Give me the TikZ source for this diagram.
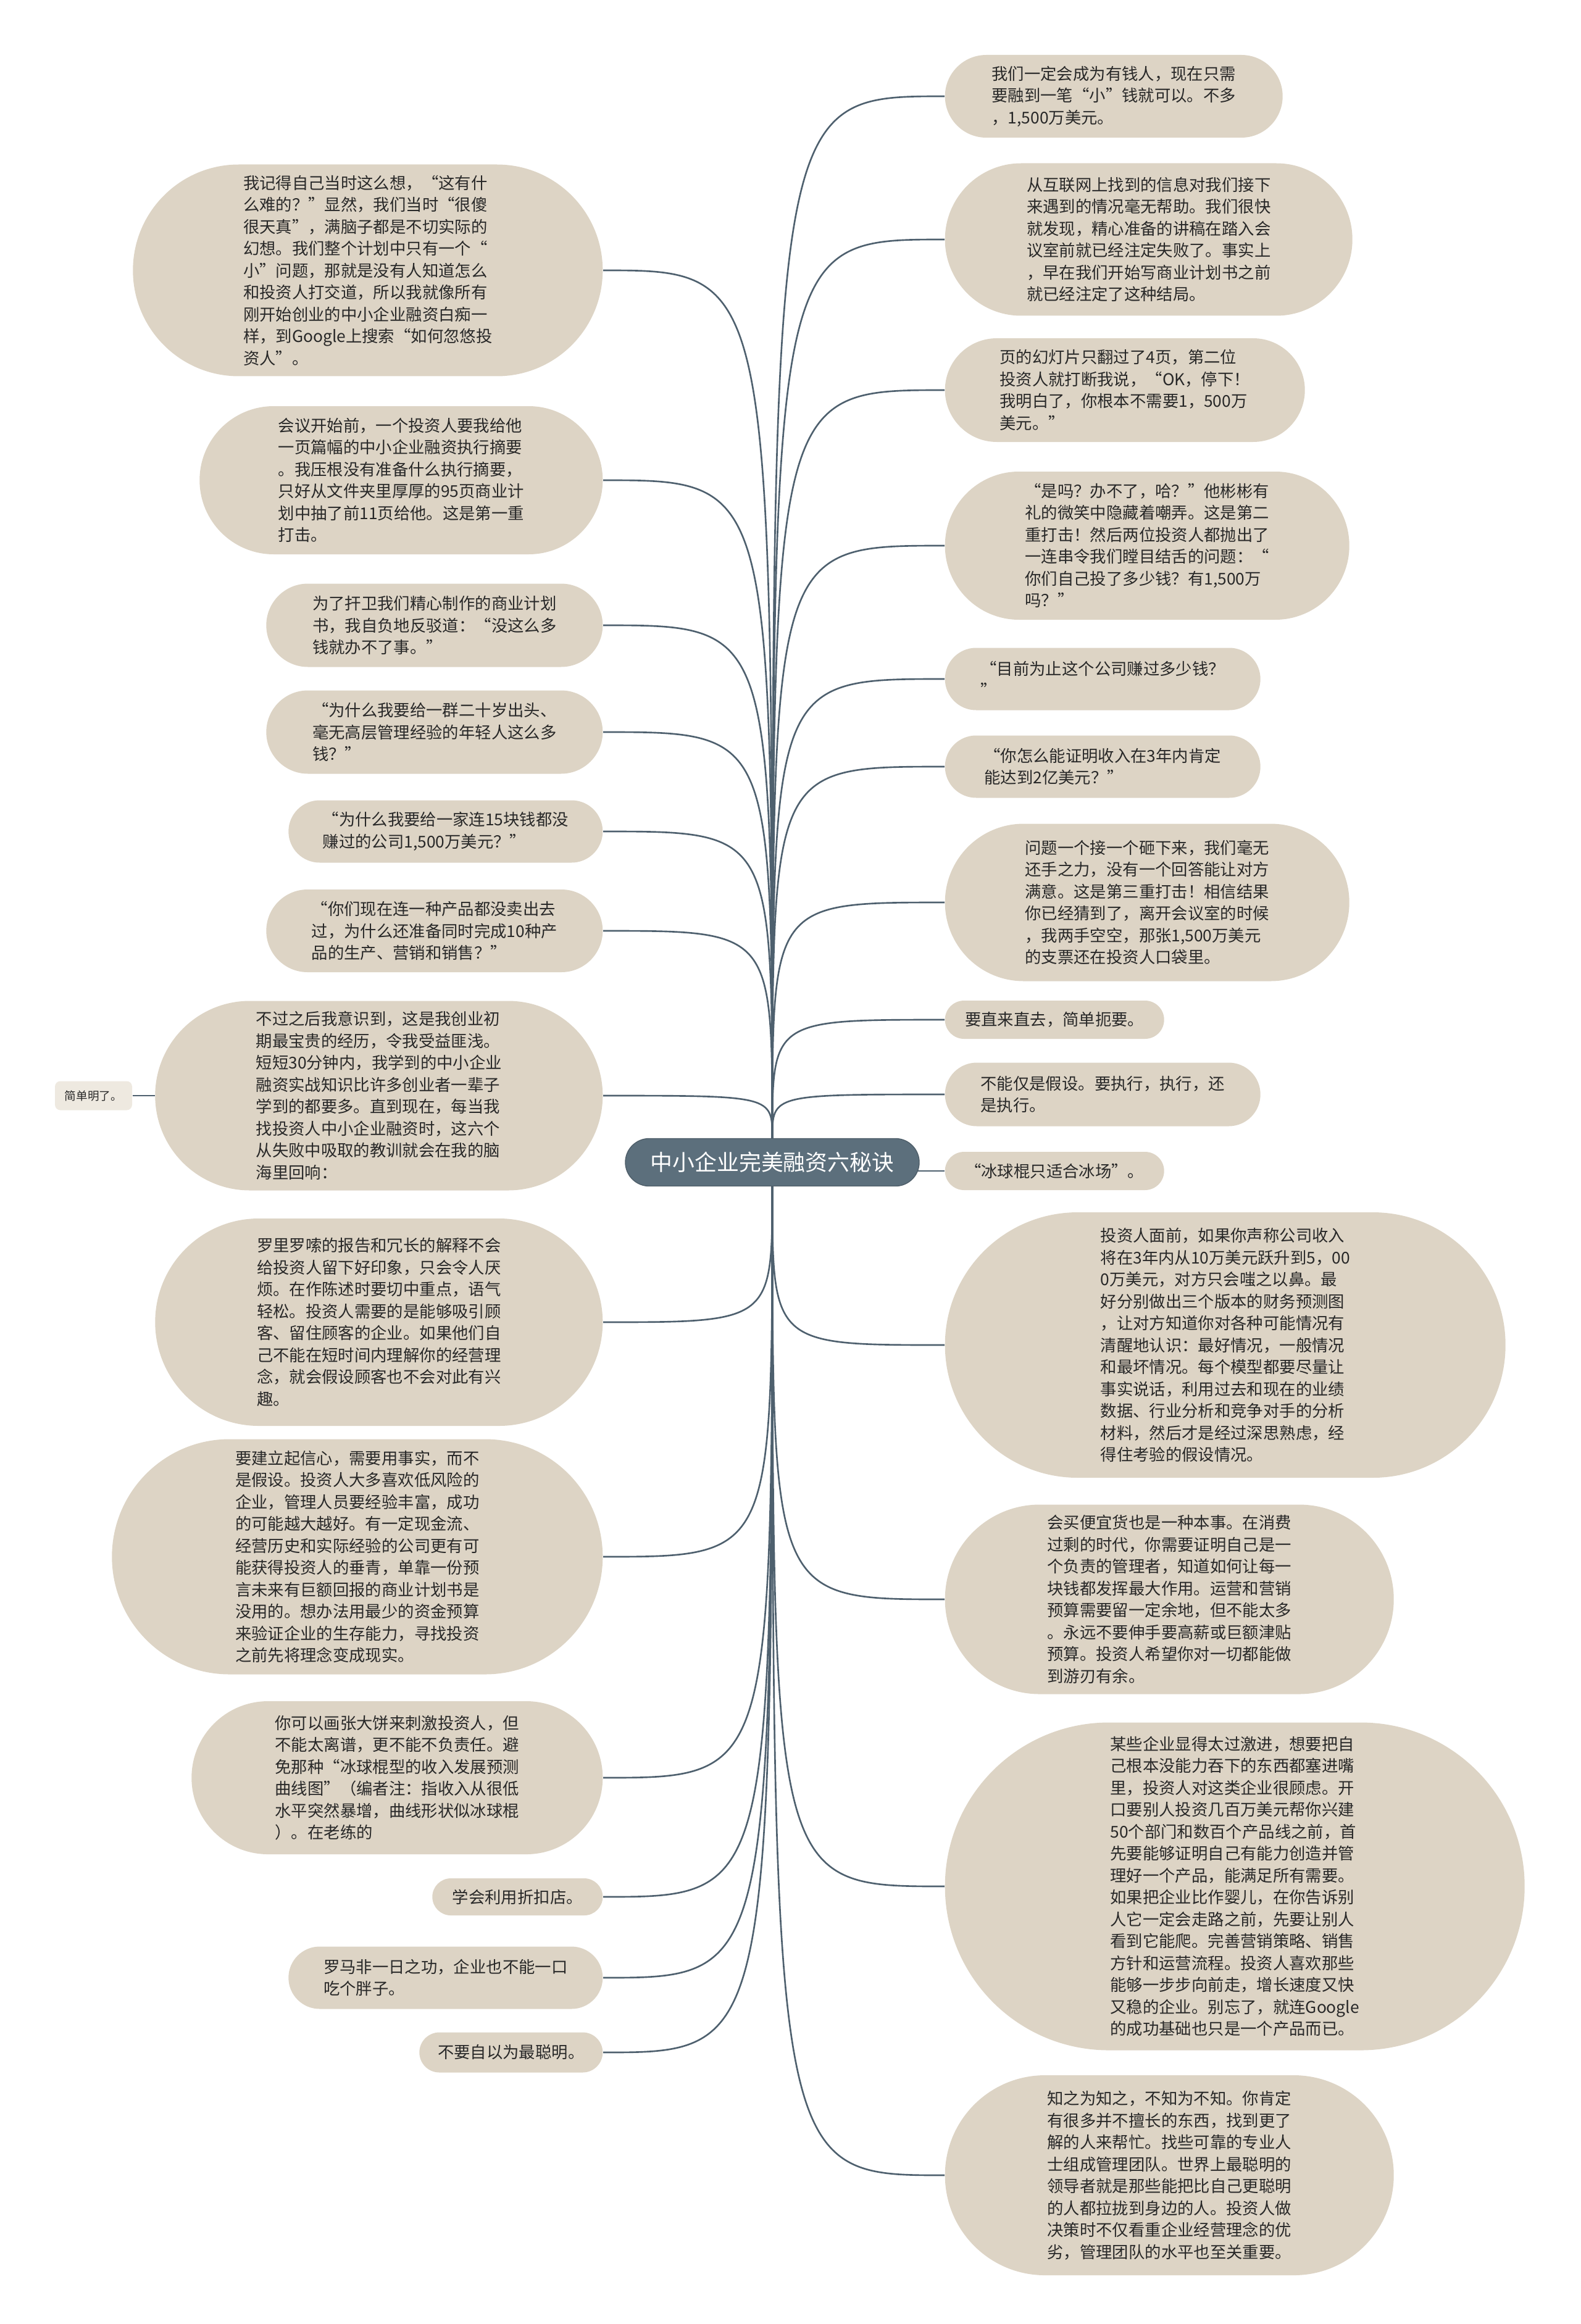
\documentclass[tikz,border=0pt]{standalone}
\usepackage{fontspec}
\setmainfont{Noto Sans CJK SC}
\usepackage{tikz}
\usetikzlibrary{calc, backgrounds}

\definecolor{leafbg}{RGB}{221,212,197}
\definecolor{tipbg}{RGB}{238,233,224}
\definecolor{hubbg}{RGB}{92,111,124}
\definecolor{wire}{RGB}{78,96,110}
\definecolor{ink}{RGB}{40,40,40}

\begin{document}
\begin{tikzpicture}[
  leaf/.style 2 args={rectangle, fill=leafbg, text=ink, align=left, inner sep=0pt,
    minimum width=#1cm, minimum height=#2cm, rounded corners=#2*0.5cm,
    font=\fontsize{7.5pt}{10.1pt}\selectfont},
  hub/.style={rectangle, fill=hubbg, draw=hubbg!85!black, text=white, inner sep=0pt,
    minimum width=4.76cm, minimum height=0.77cm, rounded corners=0.385cm,
    font=\fontsize{10.2pt}{12pt}\selectfont},
  tip/.style={rectangle, rounded corners=2.5pt, fill=tipbg, text=ink,
    minimum width=1.25cm, minimum height=0.47cm, font=\fontsize{5.3pt}{6pt}\selectfont},
  link/.style={draw=wire, line width=0.75pt}
]
  \useasboundingbox (0,0) rectangle (25.6,-37.65);

  % Central topic
  \node[hub] (M) at (12.51,-18.83) {中小企业完美融资六秘诀};

  % Left branches (right edge at x = 9.77)
  \node[leaf={7.61}{3.43}, anchor=east] (L1) at (9.77,-4.38) {我记得自己当时这么想，“这有什\\么难的？”显然，我们当时“很傻\\很天真”，满脑子都是不切实际的\\幻想。我们整个计划中只有一个“\\小”问题，那就是没有人知道怎么\\和投资人打交道，所以我就像所有\\刚开始创业的中小企业融资白痴一\\样，到Google上搜索“如何忽悠投\\资人”。};
  \node[leaf={6.53}{2.40}, anchor=east] (L2) at (9.77,-7.78) {会议开始前，一个投资人要我给他\\一页篇幅的中小企业融资执行摘要\\。我压根没有准备什么执行摘要，\\只好从文件夹里厚厚的95页商业计\\划中抽了前11页给他。这是第一重\\打击。};
  \node[leaf={5.45}{1.35}, anchor=east] (L3) at (9.77,-10.13) {为了扞卫我们精心制作的商业计划\\书，我自负地反驳道：“没这么多\\钱就办不了事。”};
  \node[leaf={5.45}{1.35}, anchor=east] (L4) at (9.77,-11.86) {“为什么我要给一群二十岁出头、\\毫无高层管理经验的年轻人这么多\\钱？”};
  \node[leaf={5.09}{1.01}, anchor=east] (L5) at (9.77,-13.47) {“为什么我要给一家连15块钱都没\\赚过的公司1,500万美元？”};
  \node[leaf={5.45}{1.34}, anchor=east] (L6) at (9.77,-15.08) {“你们现在连一种产品都没卖出去\\过，为什么还准备同时完成10种产\\品的生产、营销和销售？”};
  \node[leaf={7.25}{3.07}, anchor=east] (L7) at (9.77,-17.75) {不过之后我意识到，这是我创业初\\期最宝贵的经历，令我受益匪浅。\\短短30分钟内，我学到的中小企业\\融资实战知识比许多创业者一辈子\\学到的都要多。直到现在，每当我\\找投资人中小企业融资时，这六个\\从失败中吸取的教训就会在我的脑\\海里回响：};
  \node[leaf={7.25}{3.36}, anchor=east] (L8) at (9.77,-21.42) {罗里罗嗦的报告和冗长的解释不会\\给投资人留下好印象，只会令人厌\\烦。在作陈述时要切中重点，语气\\轻松。投资人需要的是能够吸引顾\\客、留住顾客的企业。如果他们自\\己不能在短时间内理解你的经营理\\念，就会假设顾客也不会对此有兴\\趣。};
  \node[leaf={7.95}{3.81}, anchor=east] (L9) at (9.77,-25.22) {要建立起信心，需要用事实，而不\\是假设。投资人大多喜欢低风险的\\企业，管理人员要经验丰富，成功\\的可能越大越好。有一定现金流、\\经营历史和实际经验的公司更有可\\能获得投资人的垂青，单靠一份预\\言未来有巨额回报的商业计划书是\\没用的。想办法用最少的资金预算\\来验证企业的生存能力，寻找投资\\之前先将理念变成现实。};
  \node[leaf={6.66}{2.48}, anchor=east] (L10) at (9.77,-28.80) {你可以画张大饼来刺激投资人，但\\不能太离谱，更不能不负责任。避\\免那种“冰球棍型的收入发展预测\\曲线图”（编者注：指收入从很低\\水平突然暴增，曲线形状似冰球棍\\）。在老练的};
  \node[leaf={2.76}{0.60}, anchor=east] (L11) at (9.77,-30.73) {学会利用折扣店。};
  \node[leaf={5.09}{1.01}, anchor=east] (L12) at (9.77,-32.04) {罗马非一日之功，企业也不能一口\\吃个胖子。};
  \node[leaf={2.97}{0.65}, anchor=east] (L13) at (9.77,-33.25) {不要自以为最聪明。};

  % Sub-topic hanging off L7
  \node[tip] (S) at (1.515,-17.75) {简单明了。};

  % Right branches (left edge at x = 15.30)
  \node[leaf={5.47}{1.34}, anchor=west] (R1) at (15.30,-1.56) {我们一定会成为有钱人，现在只需\\要融到一笔“小”钱就可以。不多\\，1,500万美元。};
  \node[leaf={6.60}{2.47}, anchor=west] (R2) at (15.30,-3.88) {从互联网上找到的信息对我们接下\\来遇到的情况毫无帮助。我们很快\\就发现，精心准备的讲稿在踏入会\\议室前就已经注定失败了。事实上\\，早在我们开始写商业计划书之前\\就已经注定了这种结局。};
  \node[leaf={5.83}{1.68}, anchor=west] (R3) at (15.30,-6.32) {页的幻灯片只翻过了4页，第二位\\投资人就打断我说，“OK，停下！\\我明白了，你根本不需要1，500万\\美元。”};
  \node[leaf={6.55}{2.40}, anchor=west] (R4) at (15.30,-8.84) {“是吗？办不了，哈？”他彬彬有\\礼的微笑中隐藏着嘲弄。这是第二\\重打击！然后两位投资人都抛出了\\一连串令我们瞠目结舌的问题：“\\你们自己投了多少钱？有1,500万\\吗？”};
  \node[leaf={5.11}{1.01}, anchor=west] (R5) at (15.30,-11.00) {“目前为止这个公司赚过多少钱？\\”};
  \node[leaf={5.11}{1.01}, anchor=west] (R6) at (15.30,-12.42) {“你怎么能证明收入在3年内肯定\\能达到2亿美元？”};
  \node[leaf={6.55}{2.55}, anchor=west] (R7) at (15.30,-14.62) {问题一个接一个砸下来，我们毫无\\还手之力，没有一个回答能让对方\\满意。这是第三重打击！相信结果\\你已经猜到了，离开会议室的时候\\，我两手空空，那张1,500万美元\\的支票还在投资人口袋里。};
  \node[leaf={3.55}{0.62}, anchor=west] (R8) at (15.30,-16.52) {要直来直去，简单扼要。};
  \node[leaf={5.11}{1.03}, anchor=west] (R9) at (15.30,-17.73) {不能仅是假设。要执行，执行，还\\是执行。};
  \node[leaf={3.55}{0.62}, anchor=west] (R10) at (15.30,-18.97) {“冰球棍只适合冰场”。};
  \node[leaf={9.08}{4.30}, anchor=west] (R11) at (15.30,-21.79) {投资人面前，如果你声称公司收入\\将在3年内从10万美元跃升到5，00\\0万美元，对方只会嗤之以鼻。最\\好分别做出三个版本的财务预测图\\，让对方知道你对各种可能情况有\\清醒地认识：最好情况，一般情况\\和最坏情况。每个模型都要尽量让\\事实说话，利用过去和现在的业绩\\数据、行业分析和竞争对手的分析\\材料，然后才是经过深思熟虑，经\\得住考验的假设情况。};
  \node[leaf={7.27}{3.07}, anchor=west] (R12) at (15.30,-25.91) {会买便宜货也是一种本事。在消费\\过剩的时代，你需要证明自己是一\\个负责的管理者，知道如何让每一\\块钱都发挥最大作用。运营和营销\\预算需要留一定余地，但不能太多\\。永远不要伸手要高薪或巨额津贴\\预算。投资人希望你对一切都能做\\到游刃有余。};
  \node[leaf={9.39}{5.31}, anchor=west] (R13) at (15.30,-30.56) {某些企业显得太过激进，想要把自\\己根本没能力吞下的东西都塞进嘴\\里，投资人对这类企业很顾虑。开\\口要别人投资几百万美元帮你兴建\\50个部门和数百个产品线之前，首\\先要能够证明自己有能力创造并管\\理好一个产品，能满足所有需要。\\如果把企业比作婴儿，在你告诉别\\人它一定会走路之前，先要让别人\\看到它能爬。完善营销策略、销售\\方针和运营流程。投资人喜欢那些\\能够一步步向前走，增长速度又快\\又稳的企业。别忘了，就连Google\\的成功基础也只是一个产品而已。};
  \node[leaf={7.27}{3.24}, anchor=west] (R14) at (15.30,-35.24) {知之为知之，不知为不知。你肯定\\有很多并不擅长的东西，找到更了\\解的人来帮忙。找些可靠的专业人\\士组成管理团队。世界上最聪明的\\领导者就是那些能把比自己更聪明\\的人都拉拢到身边的人。投资人做\\决策时不仅看重企业经营理念的优\\劣，管理团队的水平也至关重要。};

  \begin{scope}[on background layer]
  % Curved links, upper left
  \draw[link] (M.north) .. controls (M.north |- L1.east) .. (L1.east);
  \draw[link] (M.north) .. controls (M.north |- L2.east) .. (L2.east);
  \draw[link] (M.north) .. controls (M.north |- L3.east) .. (L3.east);
  \draw[link] (M.north) .. controls (M.north |- L4.east) .. (L4.east);
  \draw[link] (M.north) .. controls (M.north |- L5.east) .. (L5.east);
  \draw[link] (M.north) .. controls (M.north |- L6.east) .. (L6.east);
  \draw[link] (M.north) .. controls (M.north |- L7.east) .. (L7.east);
  % Curved links, lower left
  \draw[link] (M.south) .. controls (M.south |- L8.east) .. (L8.east);
  \draw[link] (M.south) .. controls (M.south |- L9.east) .. (L9.east);
  \draw[link] (M.south) .. controls (M.south |- L10.east) .. (L10.east);
  \draw[link] (M.south) .. controls (M.south |- L11.east) .. (L11.east);
  \draw[link] (M.south) .. controls (M.south |- L12.east) .. (L12.east);
  \draw[link] (M.south) .. controls (M.south |- L13.east) .. (L13.east);
  % Curved links, upper right
  \draw[link] (M.north) .. controls (M.north |- R1.west) .. (R1.west);
  \draw[link] (M.north) .. controls (M.north |- R2.west) .. (R2.west);
  \draw[link] (M.north) .. controls (M.north |- R3.west) .. (R3.west);
  \draw[link] (M.north) .. controls (M.north |- R4.west) .. (R4.west);
  \draw[link] (M.north) .. controls (M.north |- R5.west) .. (R5.west);
  \draw[link] (M.north) .. controls (M.north |- R6.west) .. (R6.west);
  \draw[link] (M.north) .. controls (M.north |- R7.west) .. (R7.west);
  \draw[link] (M.north) .. controls (M.north |- R8.west) .. (R8.west);
  \draw[link] (M.north) .. controls (M.north |- R9.west) .. (R9.west);
  % Straight link to the right
  \draw[link] (M.center |- R10.west) -- (R10.west);
  % Curved links, lower right
  \draw[link] (M.south) .. controls (M.south |- R11.west) .. (R11.west);
  \draw[link] (M.south) .. controls (M.south |- R12.west) .. (R12.west);
  \draw[link] (M.south) .. controls (M.south |- R13.west) .. (R13.west);
  \draw[link] (M.south) .. controls (M.south |- R14.west) .. (R14.west);
  % Short link to the sub-topic
  \draw[link] (L7.west) -- (S.east);
  \end{scope}
\end{tikzpicture}
\end{document}
